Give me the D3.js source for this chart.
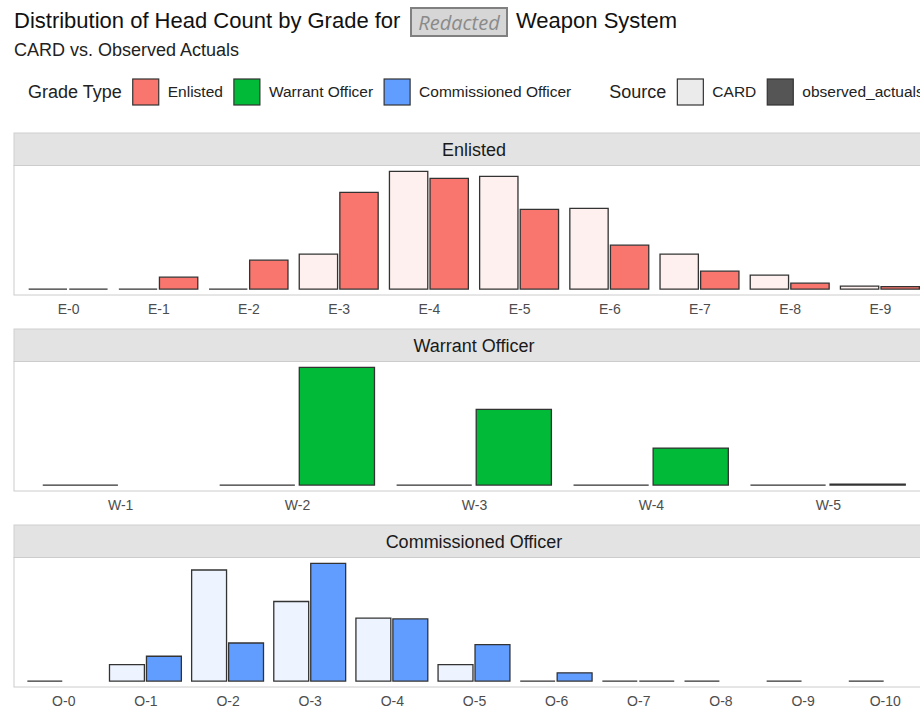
<!DOCTYPE html>
<html>
<head>
<meta charset="utf-8">
<script src="https://cdn.jsdelivr.net/npm/d3@7"></script>
<style>
  body { margin: 0; background: #fff; }
  svg { display: block; }
</style>
</head>
<body>
<div id="chart"></div>
<script>
// Grades and head counts (free y scale per panel)
const enlistedGrades = ['E-0', 'E-1', 'E-2', 'E-3', 'E-4', 'E-5', 'E-6', 'E-7', 'E-8', 'E-9'];
const enlistedCard = [0, 0, 0, 35, 118, 113, 81, 35, 14, 3];
const enlistedObserved = [0, 12, 29, 97, 111, 80, 44, 18, 6, 2.5];

const warrantGrades = ['W-1', 'W-2', 'W-3', 'W-4', 'W-5'];
const warrantCard = [0, 0, 0, 0, 0];
const warrantObserved = [null, 70, 45, 22, 0.6];

const officerGrades = ['O-0', 'O-1', 'O-2', 'O-3', 'O-4', 'O-5', 'O-6', 'O-7', 'O-8', 'O-9', 'O-10'];
const officerCard = [0, 10, 67, 48, 38, 10, 0, 0, 0, 0, 0];
const officerObserved = [null, 15, 23, 71, 37.5, 22, 5, 0, null, null, null];

const gradeTypes = ['Enlisted', 'Warrant Officer', 'Commissioned Officer'];
const sources = ['CARD', 'observed_actuals'];

const W = 920, H = 708;
const FONT = '"Liberation Sans", Arial, sans-serif';

const svg = d3.select('#chart').append('svg')
  .attr('width', W)
  .attr('height', H)
  .style('font-family', FONT);

// Title with the redacted box
svg.append('text')
  .attr('x', 14).attr('y', 28)
  .attr('font-size', 22).attr('fill', '#111')
  .text('Distribution of Head Count by Grade for');
svg.append('rect')
  .attr('x', 411).attr('y', 8).attr('width', 96).attr('height', 28)
  .attr('fill', '#d6d6d6').attr('stroke', '#808080').attr('stroke-width', 2);
svg.append('text')
  .attr('x', 459).attr('y', 30)
  .attr('text-anchor', 'middle')
  .attr('font-family', '"Open Sans", sans-serif')
  .attr('font-style', 'italic')
  .attr('font-size', 20).attr('fill', '#8a8a8a')
  .text('Redacted');
svg.append('text')
  .attr('x', 516).attr('y', 28)
  .attr('font-size', 22).attr('fill', '#111')
  .text('Weapon System');

svg.append('text')
  .attr('x', 14).attr('y', 56)
  .attr('font-size', 18).attr('fill', '#222')
  .text('CARD vs. Observed Actuals');

// Colours
const typeColor = d3.scaleOrdinal().domain(gradeTypes).range(['#F8766D', '#00BA38', '#619CFF']);
const lightColor = c => d3.interpolateRgb('#ffffff', c)(0.11);
const sourceKey = d3.scaleOrdinal().domain(sources).range(['#ebebeb', '#555555']);

// Legend, laid out left to right
const legend = svg.append('g').attr('class', 'legend');
const legendMid = 92;
let cursor = 28;

function legendTitle(label) {
  const t = legend.append('text')
    .attr('x', cursor).attr('y', legendMid + 6)
    .attr('font-size', 18).attr('fill', '#222')
    .text(label);
  cursor += t.node().getComputedTextLength() + 11;
}
function legendItem(label, fill) {
  legend.append('rect')
    .attr('x', cursor).attr('y', legendMid - 13)
    .attr('width', 26).attr('height', 26)
    .attr('fill', fill).attr('stroke', '#333').attr('stroke-width', 1.2);
  cursor += 26 + 9;
  const t = legend.append('text')
    .attr('x', cursor).attr('y', legendMid + 5)
    .attr('font-size', 15.5).attr('fill', '#222')
    .text(label);
  cursor += t.node().getComputedTextLength() + 11;
}

legendTitle('Grade Type');
gradeTypes.forEach(g => legendItem(g, typeColor(g)));
cursor += 27;
legendTitle('Source');
sources.forEach(s => legendItem(s, sourceKey(s)));

// Facet panels
const panels = [
  { title: gradeTypes[0], grades: enlistedGrades, card: enlistedCard, observed: enlistedObserved },
  { title: gradeTypes[1], grades: warrantGrades, card: warrantCard, observed: warrantObserved },
  { title: gradeTypes[2], grades: officerGrades, card: officerCard, observed: officerObserved }
];

const panelLeft = 14, panelRight = 934;
const firstTop = 133, panelGap = 196;
const stripH = 32.5, plotH = 129.5;

panels.forEach((p, i) => {
  const top = firstTop + i * panelGap;
  const g = svg.append('g').attr('transform', `translate(0,${top})`);
  const plotTop = stripH, plotBottom = stripH + plotH;

  // strip
  g.append('rect')
    .attr('x', panelLeft).attr('y', 0)
    .attr('width', panelRight - panelLeft).attr('height', stripH)
    .attr('fill', '#e3e3e3').attr('stroke', '#cfcfcf').attr('stroke-width', 1);
  g.append('text')
    .attr('x', (panelLeft + panelRight) / 2).attr('y', stripH / 2 + 7)
    .attr('text-anchor', 'middle')
    .attr('font-size', 18).attr('fill', '#1a1a1a')
    .text(p.title);

  // panel background + border
  g.append('rect')
    .attr('x', panelLeft).attr('y', plotTop)
    .attr('width', panelRight - panelLeft).attr('height', plotH)
    .attr('fill', '#fff').attr('stroke', '#cccccc').attr('stroke-width', 1);

  const x = d3.scalePoint().domain(p.grades).range([panelLeft, panelRight]).padding(0.6);
  const step = x.step();
  const xs = d3.scaleBand().domain(sources)
    .range([-0.45 * step, 0.45 * step])
    .paddingInner(0.0556).paddingOuter(0.0278);

  const rows = p.grades.flatMap((gr, j) => [
    { grade: gr, source: 'CARD', value: p.card[j] },
    { grade: gr, source: 'observed_actuals', value: p.observed[j] }
  ]).filter(d => d.value != null);

  const pad = plotH * 0.05 / 1.1;
  const y = d3.scaleLinear()
    .domain([0, d3.max(rows, d => d.value)])
    .range([plotBottom - pad, plotTop + pad]);

  const color = typeColor(p.title);
  const light = lightColor(color);

  // paths so that zero-height bars still draw their outline
  g.append('g').selectAll('path')
    .data(rows)
    .join('path')
    .attr('d', d => {
      const x0 = x(d.grade) + xs(d.source);
      const x1 = x0 + xs.bandwidth();
      return `M${x0},${y(0)}H${x1}V${y(d.value)}H${x0}Z`;
    })
    .attr('fill', d => d.source === 'CARD' ? light : color)
    .attr('stroke', '#333')
    .attr('stroke-width', 1.3);

  const axis = g.append('g')
    .attr('transform', `translate(0,${plotBottom})`)
    .call(d3.axisBottom(x).tickSize(0).tickPadding(9.5));
  axis.select('.domain').remove();
  axis.selectAll('text')
    .attr('font-family', FONT)
    .attr('font-size', 14)
    .attr('fill', '#4d4d4d');
});
</script>
</body>
</html>
